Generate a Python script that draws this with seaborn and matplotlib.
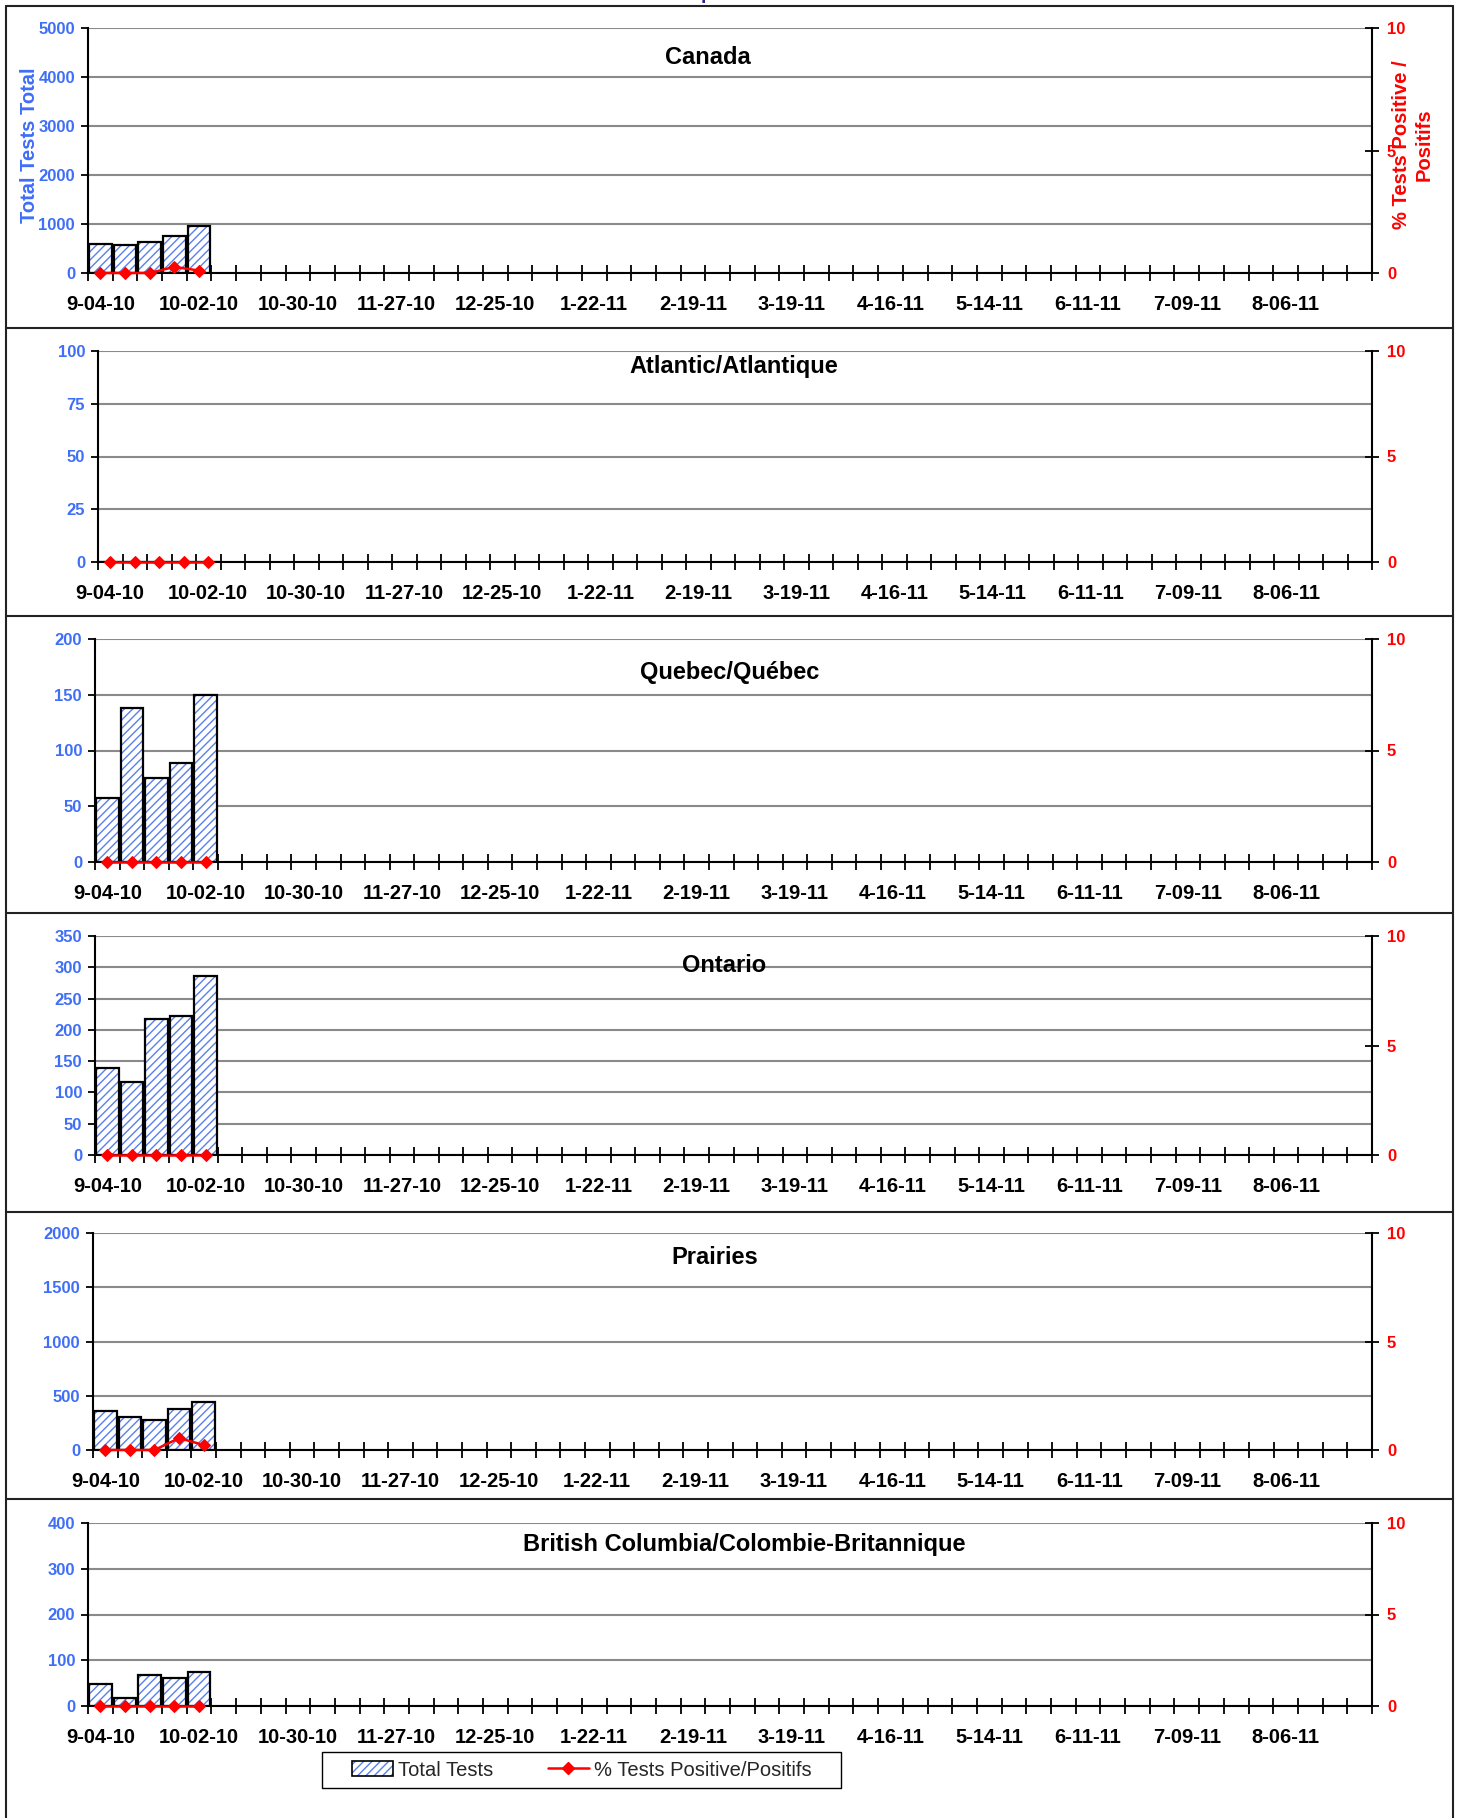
import numpy as np
import pandas as pd
import matplotlib
matplotlib.use("Agg")
import matplotlib.pyplot as plt
import seaborn as sns
from matplotlib.patches import Patch, Rectangle
from matplotlib.lines import Line2D
from matplotlib.legend_handler import HandlerTuple

sns.set_theme(style="white")
plt.rcParams["font.family"] = ["Liberation Sans", "DejaVu Sans"]
plt.rcParams["hatch.linewidth"] = 1.0

# ---------------- data ----------------
weeks = ["9-04-10", "9-11-10", "9-18-10", "9-25-10", "10-02-10", "10-09-10", "10-16-10",
         "10-23-10", "10-30-10", "11-06-10", "11-13-10", "11-20-10", "11-27-10", "12-04-10",
         "12-11-10", "12-18-10", "12-25-10", "1-01-11", "1-08-11", "1-15-11", "1-22-11",
         "1-29-11", "2-05-11", "2-12-11", "2-19-11", "2-26-11", "3-05-11", "3-12-11",
         "3-19-11", "3-26-11", "4-02-11", "4-09-11", "4-16-11", "4-23-11", "4-30-11",
         "5-07-11", "5-14-11", "5-21-11", "5-28-11", "6-04-11", "6-11-11", "6-18-11",
         "6-25-11", "7-02-11", "7-09-11", "7-16-11", "7-23-11", "7-30-11", "8-06-11",
         "8-13-11", "8-20-11", "8-27-11"]
tick_labels = ["9-04-10", "10-02-10", "10-30-10", "11-27-10", "12-25-10", "1-22-11",
               "2-19-11", "3-19-11", "4-16-11", "5-14-11", "6-11-11", "7-09-11", "8-06-11"]
data_weeks = ["9-04-10", "9-11-10", "9-18-10", "9-25-10", "10-02-10"]

regions = ["Canada", "Atlantic/Atlantique", "Quebec/Québec", "Ontario", "Prairies",
           "British Columbia/Colombie-Britannique"]

canada_tests = [600, 575, 630, 748, 952]
atlantic_tests = [0, 0, 0, 0, 0]
quebec_tests = [57, 138, 75, 89, 150]
ontario_tests = [139, 116, 217, 222, 286]
prairies_tests = [364, 306, 272, 380, 444]
bc_tests = [48, 18, 67, 61, 74]

canada_pct = [0, 0, 0, 0.25, 0.1]
atlantic_pct = [0, 0, 0, 0, 0]
quebec_pct = [0, 0, 0, 0, 0]
ontario_pct = [0, 0, 0, 0, 0]
prairies_pct = [0, 0, 0, 0.55, 0.23]
bc_pct = [0, 0, 0, 0, 0]

tests_all = [canada_tests, atlantic_tests, quebec_tests, ontario_tests, prairies_tests, bc_tests]
pct_all = [canada_pct, atlantic_pct, quebec_pct, ontario_pct, prairies_pct, bc_pct]
y_max = [5000, 100, 200, 350, 2000, 400]
y_step = [1000, 25, 50, 50, 500, 100]

# ---------------- layout (pixels) ----------------
W, H = 1460, 1818
axes_px = [(88, 28, 273), (98, 351, 562), (95, 639, 862),
           (95, 936, 1155), (93, 1233, 1450), (88, 1523, 1706)]  # left, top, bottom
right_px = 1372
title_px = [(708, 58), (734, 367), (730, 672), (724, 966), (715, 1257), (744, 1544)]
dividers = [328, 616, 913, 1212, 1499]

BLUE = "#3f6ef7"
HATCH_BLUE = "#5a80ee"
RED = "#ff0000"
GRID = "#8a8a8a"

fig = plt.figure(figsize=(W / 100, H / 100), dpi=100)

def fx(px):
    return px / W

def fy(py):
    return 1 - py / H

for i, region in enumerate(regions):
    l, t, b = axes_px[i]
    ax = fig.add_axes([fx(l), fy(b), fx(right_px - l), (b - t) / H])
    ax2 = ax.twinx()

    df = pd.DataFrame({
        "pos": [weeks.index(w) for w in data_weeks],
        "tests": tests_all[i],
        "pct": pct_all[i],
    })

    sns.barplot(data=df, x="pos", y="tests", native_scale=True, ax=ax, color="white",
                saturation=1, width=0.92, edgecolor=HATCH_BLUE, linewidth=0,
                hatch="////", errorbar=None, zorder=2)
    sns.barplot(data=df, x="pos", y="tests", native_scale=True, ax=ax, fill=False,
                color="black", width=0.92, linewidth=1.6, errorbar=None, zorder=3)

    sns.lineplot(data=df, x="pos", y="pct", ax=ax2, color=RED, marker="D",
                 markersize=6, markeredgecolor=RED, linewidth=1.8, errorbar=None,
                 legend=False, clip_on=False, zorder=5)

    ax.set_xlim(-0.5, len(weeks) - 0.5)
    ax.set_ylim(0, y_max[i])
    ax.set_yticks(np.arange(0, y_max[i] + 1, y_step[i]))
    ax.set_yticklabels([str(v) for v in np.arange(0, y_max[i] + 1, y_step[i])])
    ax2.set_ylim(0, 10)
    ax2.set_yticks([0, 5, 10])
    ax2.set_yticklabels(["0", "5", "10"])

    ax.set_xlabel("")
    ax.set_ylabel("")
    ax2.set_xlabel("")
    ax2.set_ylabel("")

    # x ticks at category boundaries; labels every 4 weeks
    ax.set_xticks(np.arange(-0.5, len(weeks), 1))
    ax.set_xticklabels([])
    ax.set_xticks([weeks.index(w) for w in tick_labels], minor=True)
    ax.set_xticklabels(tick_labels, minor=True, fontweight="bold", fontsize=14.5)
    ax.tick_params(axis="x", which="major", direction="inout", length=12, width=1.3,
                   color="black", bottom=True, labelbottom=False)
    ax.tick_params(axis="x", which="minor", length=0, pad=15.5, bottom=True,
                   labelcolor="black")

    ax.tick_params(axis="y", which="major", direction="out", length=5, width=1.3,
                   color="black", left=True, pad=4.3, labelsize=12, labelcolor=BLUE)
    for lab in ax.get_yticklabels():
        lab.set_fontweight("bold")
    ax2.tick_params(axis="y", which="major", direction="inout", length=10, width=1.3,
                    color="black", right=True, pad=5.8, labelsize=12, labelcolor=RED)
    for lab in ax2.get_yticklabels():
        lab.set_fontweight("bold")

    ax.set_axisbelow(True)
    ax.yaxis.grid(True, color=GRID, linewidth=1.5)
    ax.xaxis.grid(False)
    ax2.grid(False)

    for s in ["top", "right"]:
        ax.spines[s].set_visible(False)
    for s in ["left", "bottom"]:
        ax.spines[s].set_color("black")
        ax.spines[s].set_linewidth(1.5)
    for s in ["top", "left", "bottom"]:
        ax2.spines[s].set_visible(False)
    ax2.spines["right"].set_color("black")
    ax2.spines["right"].set_linewidth(1.5)

    tx, ty = title_px[i]
    fig.text(fx(tx), fy(ty), region, ha="center", va="center", fontsize=17,
             fontweight="bold", color="black")

# axis titles (Canada panel only)
fig.text(fx(30), fy(145), "Total Tests Total", rotation=90, ha="center", va="center",
         fontsize=14.5, fontweight="bold", color=BLUE)
fig.text(fx(1413), fy(145), "% Tests Positive /\nPositifs", rotation=90, ha="center",
         va="center", multialignment="center", fontsize=14.5, fontweight="bold", color=RED,
         linespacing=1.25)

# clipped header line at the very top
fig.text(fx(701), 1 + 1.0 / H, "par semaine de déclaration", ha="left", va="baseline",
         fontsize=14, fontweight="bold", color="#27278f")

# panel frame
frame_kw = dict(color="#222222", linewidth=1.5, transform=fig.transFigure)
fig.add_artist(Line2D([fx(6), fx(1453)], [fy(6), fy(6)], **frame_kw))
fig.add_artist(Line2D([fx(6), fx(6)], [fy(6), 0], **frame_kw))
fig.add_artist(Line2D([fx(1453), fx(1453)], [fy(6), 0], **frame_kw))
for d in dividers:
    fig.add_artist(Line2D([fx(6), fx(1453)], [fy(d), fy(d)], **frame_kw))

# legend
fig.add_artist(Rectangle((fx(322), fy(1788)), fx(841 - 322), (1788 - 1752) / H,
                         transform=fig.transFigure, fill=False, edgecolor="black",
                         linewidth=1.0))
p_hatch = Patch(facecolor="white", edgecolor=HATCH_BLUE, linewidth=0, hatch="////")
p_edge = Patch(facecolor="none", edgecolor="black", linewidth=1.2)
l_pct = Line2D([], [], color=RED, marker="D", markersize=6, linewidth=1.8)
fig.legend([(p_hatch, p_edge), l_pct], ["Total Tests", "% Tests Positive/Positifs"],
           handler_map={tuple: HandlerTuple(ndivide=1, pad=0)},
           loc="center", bbox_to_anchor=(fx(581.5), fy(1770)), ncol=2, frameon=False,
           fontsize=14.5, handlelength=2.05, handleheight=0.8, handletextpad=0.25,
           columnspacing=2.7, borderpad=0.2)

fig.savefig("out.png", dpi=100)
